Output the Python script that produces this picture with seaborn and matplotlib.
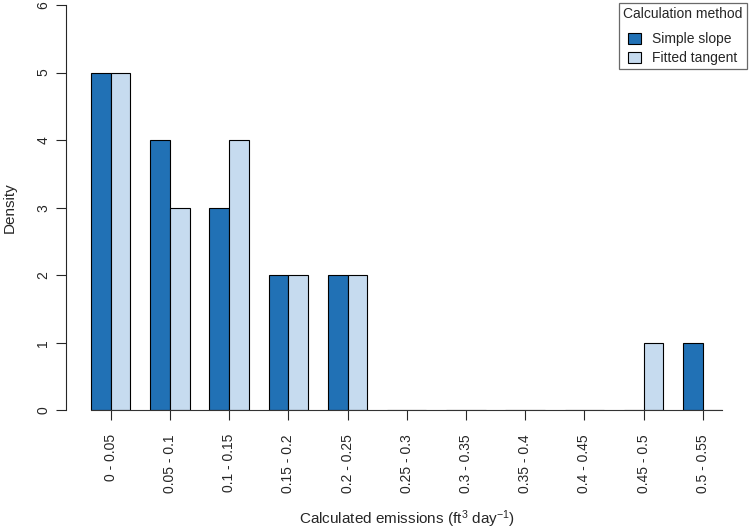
import numpy as np
import pandas as pd
import matplotlib
matplotlib.use('Agg')
import matplotlib.pyplot as plt
from matplotlib.patches import Patch
import seaborn as sns

bins = ['0 - 0.05', '0.05 - 0.1', '0.1 - 0.15', '0.15 - 0.2', '0.2 - 0.25',
        '0.25 - 0.3', '0.3 - 0.35', '0.35 - 0.4', '0.4 - 0.45', '0.45 - 0.5',
        '0.5 - 0.55']
simple_slope = [5, 4, 3, 2, 2, 0, 0, 0, 0, 0, 1]
fitted_tangent = [5, 3, 4, 2, 2, 0, 0, 0, 0, 1, 0]
methods = ['Simple slope', 'Fitted tangent']
colors = ['#2171B5', '#C6DBEF']

df = pd.DataFrame({
    'bin': bins * 2,
    'density': simple_slope + fitted_tangent,
    'method': [methods[0]] * len(bins) + [methods[1]] * len(bins),
})

sns.set_style('ticks')
plt.rcParams['font.family'] = ['Liberation Sans', 'DejaVu Sans']
plt.rcParams['mathtext.fontset'] = 'custom'
plt.rcParams['mathtext.rm'] = 'Liberation Sans'
plt.rcParams['mathtext.it'] = 'Liberation Sans'
plt.rcParams['mathtext.default'] = 'regular'

fig = plt.figure(figsize=(7.5, 5.31), dpi=100)
ax = fig.add_axes([0.0877, 0.227, 0.9093, 0.7636])

sns.barplot(data=df, x='bin', y='density', hue='method', order=bins,
            hue_order=methods, palette=colors, width=2 / 3, gap=0,
            edgecolor='black', linewidth=0.8, saturation=1, legend=False, ax=ax)

ax.set_xlim(-0.76, 10.76)
ax.set_ylim(0, 6)
ax.set_yticks(range(7))
ax.tick_params(axis='y', labelrotation=90, labelsize=10, length=7, width=0.8, pad=4)
for lab in ax.get_yticklabels():
    lab.set_va('center')
ax.tick_params(axis='x', labelrotation=90, labelsize=10, length=7, width=0.8, pad=10)

for s in ['top', 'right']:
    ax.spines[s].set_visible(False)
ax.spines['left'].set_bounds(0, 6)
ax.spines['bottom'].set_bounds(-1 / 3, 31 / 3)
ax.spines['left'].set_linewidth(0.8)
ax.spines['bottom'].set_linewidth(0.8)
ax.spines['bottom'].set_color('#333333')

ax.set_ylabel('Density', fontsize=11, labelpad=14)
ax.set_xlabel('Calculated emissions (ft$^3$ day$^{-1}$)', fontsize=11, labelpad=11)

handles = [Patch(facecolor=c, edgecolor='black', linewidth=0.8) for c in colors]
leg = fig.legend(handles, methods, title='Calculation method', loc='upper right',
                 bbox_to_anchor=(746.7 / 750, 1 - 3 / 531), bbox_transform=fig.transFigure,
                 borderaxespad=0, fancybox=False, frameon=True, fontsize=10,
                 title_fontsize=10, handlelength=0.9, handleheight=0.9,
                 handletextpad=0.8, labelspacing=0.35, borderpad=0.3)
leg.get_frame().set_edgecolor('#444444')
leg.get_frame().set_linewidth(0.9)
leg._legend_box.align = 'center'
leg._legend_box.sep = 8

fig.savefig('out.png', dpi=100)
